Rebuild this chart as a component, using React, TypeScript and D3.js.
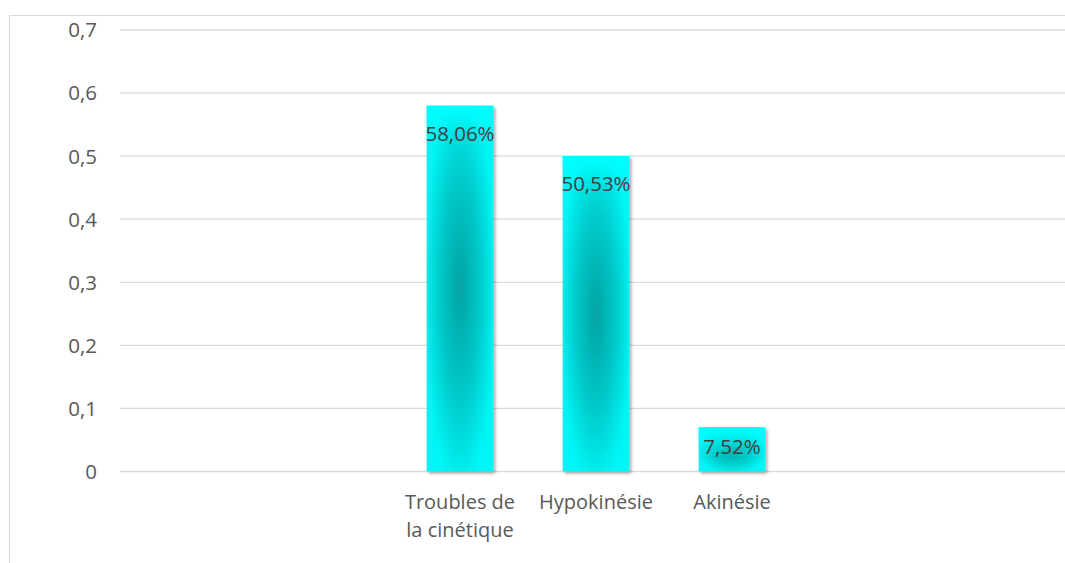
import React from "react";
import * as d3 from "d3";

const categories: string[][] = [[], [], ["Troubles de", "la cinétique"], ["Hypokinésie"], ["Akinésie"], [], []];
const values: (number | null)[] = [null, null, 0.58, 0.5, 0.07, null, null];
const valueLabels: string[] = ["", "", "58,06%", "50,53%", "7,52%", "", ""];
const yTicks: number[] = [0, 0.1, 0.2, 0.3, 0.4, 0.5, 0.6, 0.7];

const W = 1065;
const H = 563;
const plot = { left: 120, right: 1072, top: 30, bottom: 471.5 };
const FONT = "Open Sans, Lato, sans-serif";

export default function App() {
  const x = d3
    .scaleBand<number>()
    .domain(categories.map((_, i) => i))
    .range([plot.left, plot.right])
    .paddingInner(0.51)
    .paddingOuter(0.255);
  const y = d3.scaleLinear().domain([0, 0.7]).range([plot.bottom, plot.top]);
  const fmt = (v: number) => d3.format(".1f")(v).replace(".", ",").replace(/^0,0$/, "0");
  const band = (plot.right - plot.left) / categories.length;

  return (
    <svg width={W} height={H} style={{ position: "absolute", left: 0, top: 0, background: "#fff" }}>
      <defs>
        <radialGradient id="barGrad" cx="0.5" cy="0.5" r="0.55" gradientUnits="objectBoundingBox">
          <stop offset="0" stopColor="#07a3a3" />
          <stop offset="0.55" stopColor="#02caca" />
          <stop offset="1" stopColor="#00f6f6" />
        </radialGradient>
        <linearGradient id="topGrad" x1="0" y1="0" x2="0" y2="1">
          <stop offset="0" stopColor="#00ffff" stopOpacity="1" />
          <stop offset="1" stopColor="#00ffff" stopOpacity="0" />
        </linearGradient>
        <filter id="shadow" x="-20%" y="-5%" width="140%" height="115%">
          <feDropShadow dx="2" dy="2" stdDeviation="1.6" floodColor="#000" floodOpacity="0.35" />
        </filter>
      </defs>
      <rect x={0} y={0} width={W} height={H} fill="#fff" />
      {/* chart frame */}
      <path d={`M9.5,${H} V15.5 H${W}`} fill="none" stroke="#d9d9d9" strokeWidth={1.2} />
      {/* gridlines */}
      {yTicks.map((t) => (
        <line key={t} x1={plot.left} x2={W} y1={y(t)} y2={y(t)} stroke="#d9d9d9" strokeWidth={1.3} />
      ))}
      {/* y tick labels */}
      {yTicks.map((t) => (
        <text key={"l" + t} x={97} y={y(t)} dy="0.36em" textAnchor="end" fontFamily={FONT} fontSize={20.5} fill="#595959">
          {fmt(t)}
        </text>
      ))}
      {/* bars */}
      {values.map((v, i) => {
        if (v == null) return null;
        const bx = x(i)!;
        const by = y(v);
        const bh = y(0) - by;
        const bw = x.bandwidth();
        const mid = (by + y(0)) / 2;
        const ly = Math.min(by + 35, mid + 5);
        return (
          <g key={"b" + i}>
            <rect x={bx} y={by} width={bw} height={bh} fill="url(#barGrad)" filter="url(#shadow)" />
            <rect x={bx} y={by} width={bw} height={Math.min(bh, 30)} fill="url(#topGrad)" />
            <text x={bx + bw / 2} y={ly} textAnchor="middle" fontFamily={FONT} fontSize={20.5} fill="#404040">
              {valueLabels[i]}
            </text>
          </g>
        );
      })}
      {/* category labels */}
      {categories.map((lines, i) => (
        <text key={"c" + i} x={plot.left + band * (i + 0.5)} y={509} textAnchor="middle" fontFamily={FONT} fontSize={20} fill="#595959">
          {lines.map((ln, j) => (
            <tspan key={j} x={plot.left + band * (i + 0.5)} dy={j === 0 ? 0 : 28}>
              {ln}
            </tspan>
          ))}
        </text>
      ))}
    </svg>
  );
}
